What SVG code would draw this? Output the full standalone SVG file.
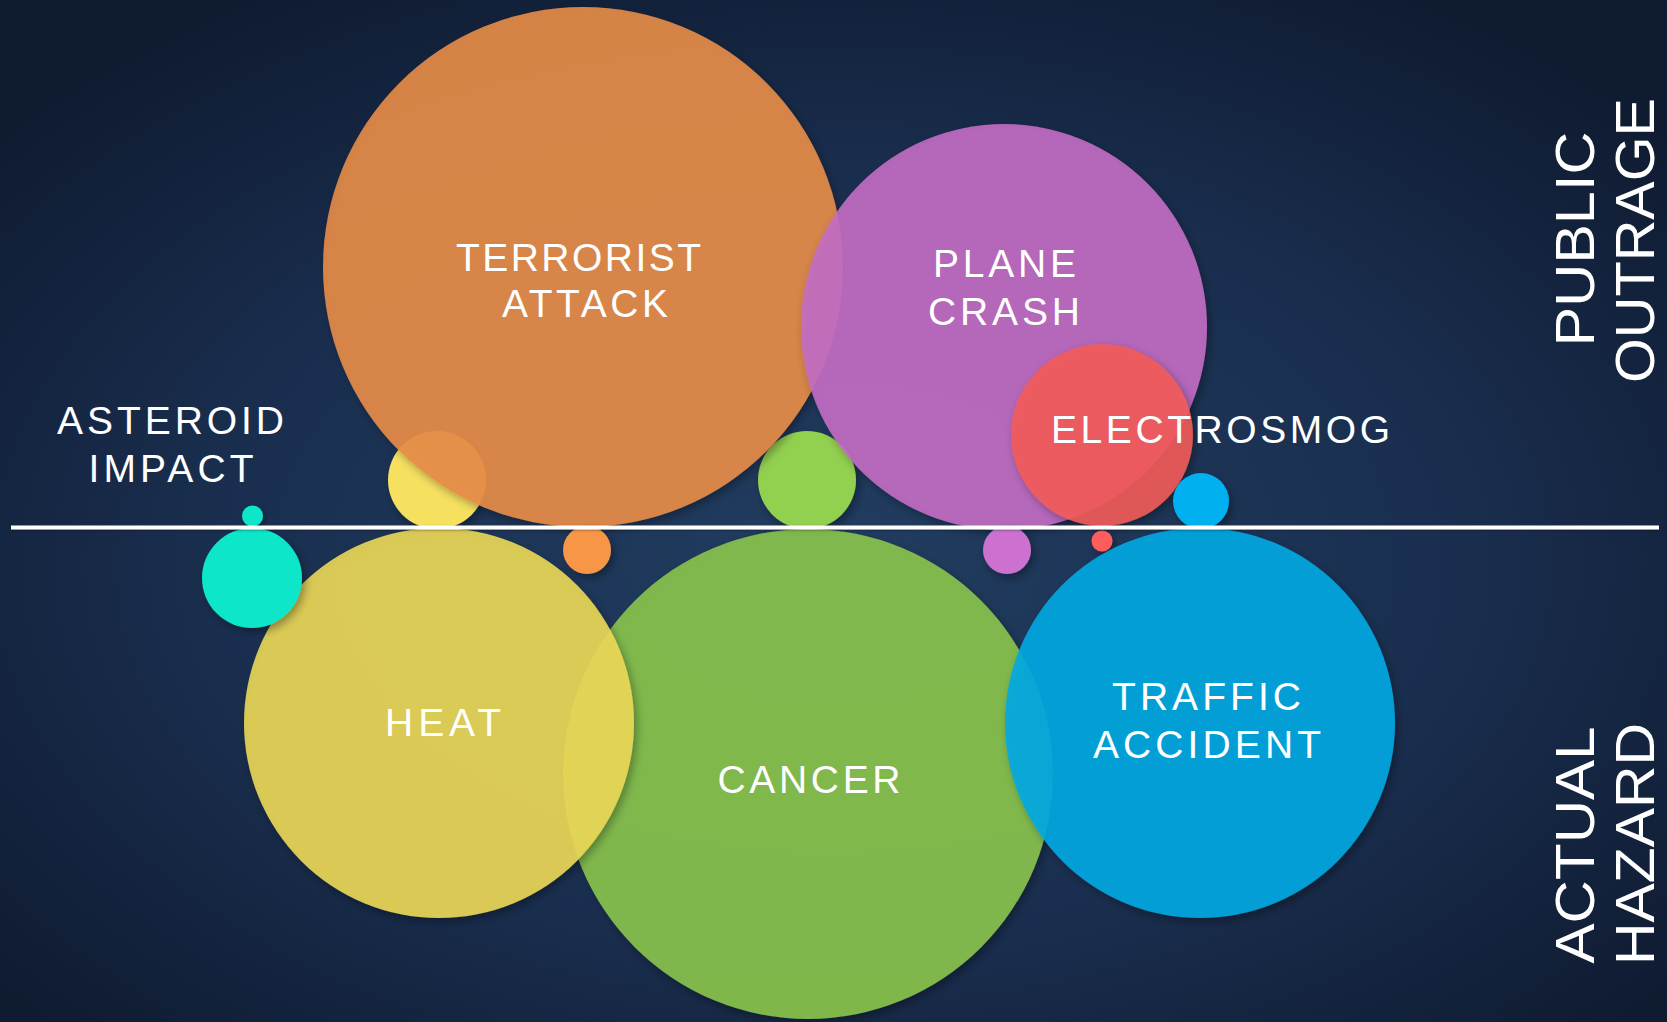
<svg xmlns="http://www.w3.org/2000/svg" width="1667" height="1022" viewBox="0 0 1667 1022">
  <defs>
    <radialGradient id="bg" cx="50%" cy="55%" r="65%">
      <stop offset="0" stop-color="#213d60"/>
      <stop offset="0.55" stop-color="#1a2f50"/>
      <stop offset="1" stop-color="#0f1b31"/>
    </radialGradient>
    <filter id="sh" x="-20%" y="-20%" width="140%" height="140%">
      <feDropShadow dx="3" dy="4" stdDeviation="4" flood-color="#000" flood-opacity="0.35"/>
    </filter>
    <filter id="lsh" x="-5%" y="-200%" width="110%" height="500%">
      <feDropShadow dx="0" dy="1" stdDeviation="1.2" flood-color="#000" flood-opacity="0.35"/>
    </filter>
  </defs>
  <style>
    .big { filter: url(#sh); fill-opacity: 0.9; }
    .small { filter: url(#sh); }
    .lbl { font-family: "Liberation Sans", Arial, sans-serif; font-size: 39px; fill: #ffffff; text-anchor: middle; }
    .axis { font-family: "Liberation Sans", Arial, sans-serif; font-size: 56px; fill: #ffffff; text-anchor: middle; }
  </style>

  <rect x="0" y="0" width="1667" height="1022" fill="url(#bg)"/>

  <g id="cancer">
    <circle class="small" cx="807" cy="480" r="49" fill="#92d050"/>
    <circle class="big" cx="808" cy="774" r="245" fill="#89c44d"/>
    <text class="lbl" x="809" y="793" textLength="183">CANCER</text>
  </g>

  <g id="heat">
    <circle class="small" cx="437" cy="480" r="49" fill="#f5e05f"/>
    <circle class="big" cx="439" cy="723" r="195" fill="#ebd858"/>
    <text class="lbl" x="443" y="736" textLength="116">HEAT</text>
  </g>

  <g id="terrorist-attack">
    <circle class="big" cx="583" cy="267" r="260" fill="#e88d49"/>
    <circle class="small" cx="587" cy="550" r="24" fill="#f79646"/>
    <text class="lbl" x="578.5" y="271" textLength="245">TERRORIST</text>
    <text class="lbl" x="585" y="317" textLength="166">ATTACK</text>
  </g>

  <g id="plane-crash">
    <circle class="big" cx="1004" cy="327" r="203" fill="#c36dc4"/>
    <circle class="small" cx="1007" cy="550" r="24" fill="#cc71d0"/>
    <text class="lbl" x="1004.5" y="277" textLength="143">PLANE</text>
    <text class="lbl" x="1004" y="325" textLength="152">CRASH</text>
  </g>

  <g id="electrosmog">
    <circle class="big" cx="1102" cy="435" r="91" fill="#f25b59"/>
    <circle class="small" cx="1102" cy="541" r="10.5" fill="#ff5b5b"/>
    <text class="lbl" x="1220.5" y="443" textLength="339">ELECTROSMOG</text>
  </g>

  <g id="traffic-accident">
    <circle class="small" cx="1201" cy="501" r="28" fill="#00b0ef"/>
    <circle class="big" cx="1200" cy="723" r="195" fill="#00a8e2"/>
    <text class="lbl" x="1206.5" y="710" textLength="189">TRAFFIC</text>
    <text class="lbl" x="1207" y="758" textLength="228">ACCIDENT</text>
  </g>

  <g id="asteroid-impact">
    <circle class="small" cx="252.5" cy="516" r="10.5" fill="#0fe6c8"/>
    <circle class="small" cx="252" cy="578" r="50" fill="#0fe6c8"/>
    <text class="lbl" x="170.5" y="434" textLength="227">ASTEROID</text>
    <text class="lbl" x="171" y="482" textLength="165">IMPACT</text>
  </g>

  <g id="connectors">
    <rect x="11" y="525.5" width="1648" height="4" fill="#ffffff" filter="url(#lsh)"/>
  </g>

  <g id="axis-labels">
    <text class="axis" transform="translate(1594,239) rotate(-90)" textLength="215" lengthAdjust="spacingAndGlyphs">PUBLIC</text>
    <text class="axis" transform="translate(1654,240.5) rotate(-90)" textLength="285" lengthAdjust="spacingAndGlyphs">OUTRAGE</text>
    <text class="axis" transform="translate(1594,845) rotate(-90)" textLength="237" lengthAdjust="spacingAndGlyphs">ACTUAL</text>
    <text class="axis" transform="translate(1654,844) rotate(-90)" textLength="242" lengthAdjust="spacingAndGlyphs">HAZARD</text>
  </g>
</svg>
